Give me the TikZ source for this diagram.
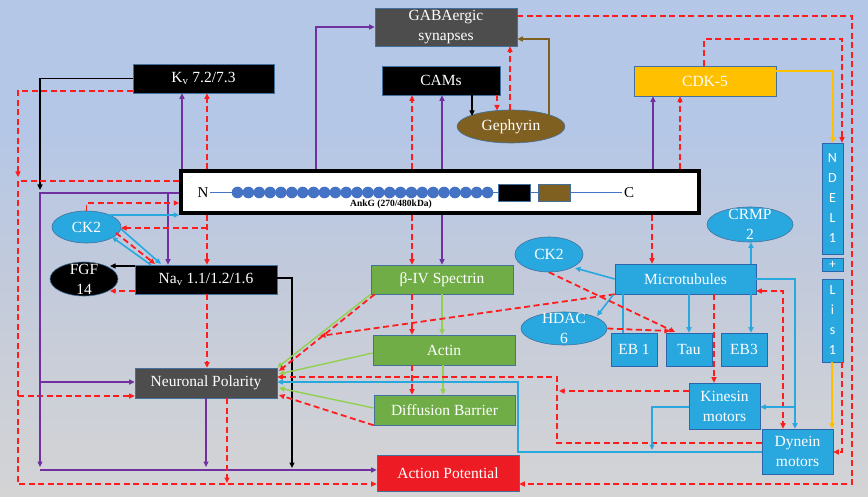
\documentclass[tikz,border=0pt]{standalone}
\usepackage{fontspec}
\setmainfont{Liberation Serif}
\newfontfamily\carl{Carlito}
\usetikzlibrary{arrows.meta,shapes.geometric,calc}
\definecolor{cRed}{RGB}{255,28,28}
\definecolor{cPur}{RGB}{112,48,160}
\definecolor{cBlu}{RGB}{41,168,224}
\definecolor{cBluD}{RGB}{46,100,170}
\definecolor{cGrn}{RGB}{146,208,80}
\definecolor{cGrnB}{RGB}{112,173,71}
\definecolor{cGold}{RGB}{255,192,0}
\definecolor{cBrown}{RGB}{128,96,32}
\definecolor{cGray}{RGB}{77,77,77}
\definecolor{cAP}{RGB}{237,28,36}
\definecolor{cEdge}{RGB}{65,113,156}
\definecolor{cDot}{RGB}{68,114,196}
\definecolor{cTop}{RGB}{181,199,230}
\definecolor{cMid}{RGB}{196,203,218}
\definecolor{cBot}{RGB}{212,212,213}
\pgfdeclareverticalshading{bgshade}{100bp}{color(0bp)=(cBot); color(25bp)=(cBot); color(45bp)=(cMid); color(62bp)=(cTop); color(100bp)=(cTop)}
\tikzset{
 rd/.style={draw=cRed, line width=1.8pt, dash pattern=on 6pt off 3.5pt},
 pu/.style={draw=cPur, line width=1.4pt},
 bl/.style={draw=cBlu, line width=1.6pt},
 gr/.style={draw=cGrn, line width=1.4pt},
 bk/.style={draw=black, line width=1.3pt},
 br/.style={draw=cBrown, line width=1.8pt},
 ye/.style={draw=cGold, line width=1.6pt},
 box/.style={draw=cEdge, line width=0.6pt, text=white, font=\fontsize{15.5}{20}\selectfont, inner sep=0pt, align=center},
 bbox/.style={box, fill=cBlu, draw=cBluD},
 oval/.style={ellipse, draw=cEdge, line width=0.6pt, inner sep=0pt},
 lbl/.style={text=white, font=\fontsize{15.5}{20}\selectfont, inner sep=0pt, align=center},
 sbox/.style={bbox, font=\carl\fontsize{14}{20}\selectfont}
}
\begin{document}
\begin{tikzpicture}[x=1pt,y=-1pt,>={Triangle[length=5.5pt,width=5pt]}]
\useasboundingbox (0,0) rectangle (868,497);
\fill[shading=bgshade] (0,0) rectangle (868,497);

% ---------- nodes ----------
\node[box,fill=cGray,minimum width=142pt,minimum height=38pt] (gaba) at (446,27) {GABAergic\\synapses};
\node[box,fill=black,minimum width=141pt,minimum height=29pt] (kv) at (203.5,78.5) {K\textsubscript{v} 7.2/7.3};
\node[box,fill=black,minimum width=118pt,minimum height=29pt] (cams) at (441,80.5) {CAMs};
\node[oval,fill=cBrown,minimum width=108pt,minimum height=33pt] (geph) at (511,126.5) {};
\node[lbl] at (geph) {Gephyrin};
\node[box,fill=cGold,minimum width=142pt,minimum height=30pt] (cdk) at (705,81) {CDK-5};

\node[draw=black,line width=3.5pt,fill=white,minimum width=518pt,minimum height=42pt,inner sep=0pt] (ank) at (440,192) {};
\draw[cDot,line width=0.8pt] (210,192.5) -- (622,192.5);
\foreach \i in {0,...,23} \fill[cDot] (237.5+\i*10.87,192.5) circle (5.8);
\node[fill=black,draw=cEdge,line width=0.5pt,minimum width=32pt,minimum height=17pt,inner sep=0pt] (blk) at (514,192.5) {};
\node[fill=cBrown,draw=cEdge,line width=0.5pt,minimum width=32pt,minimum height=17pt,inner sep=0pt] (brn) at (554,192.5) {};
\node[font=\fontsize{15}{15}\selectfont,inner sep=0pt] (nterm) at (203,193) {N};
\node[font=\fontsize{15}{15}\selectfont,inner sep=0pt] (cterm) at (629,193) {C};
\node[font=\bfseries\fontsize{9.5}{10}\selectfont,inner sep=0pt] (anklbl) at (391,204) {AnkG (270/480kDa)};

\node[oval,fill=cBlu,minimum width=69pt,minimum height=32pt] (ck2a) at (86.5,227) {};
\node[lbl] at (ck2a) {CK2};
\node[oval,fill=black,minimum width=68pt,minimum height=34pt] (fgf) at (84,279) {};
\node[lbl] at (fgf) {FGF\\14};
\node[box,fill=black,minimum width=142pt,minimum height=29pt] (nav) at (206,279.5) {Na\textsubscript{v} 1.1/1.2/1.6};
\node[box,fill=cGrnB,minimum width=142pt,minimum height=29pt] (b4) at (442,279.5) {β-IV Spectrin};
\node[box,fill=cGrnB,minimum width=142pt,minimum height=30pt] (actin) at (444,350) {Actin};
\node[box,fill=cGrnB,minimum width=141pt,minimum height=30pt] (db) at (444.5,410) {Diffusion Barrier};
\node[box,fill=cGray,minimum width=142pt,minimum height=30pt] (np) at (206,383) {Neuronal Polarity};
\node[box,fill=cAP,minimum width=142pt,minimum height=36pt] (ap) at (448,473) {Action Potential};

\node[oval,fill=cBlu,minimum width=68pt,minimum height=35pt] (ck2b) at (549,254.5) {};
\node[lbl] at (ck2b) {CK2};
\node[oval,fill=cBlu,minimum width=86pt,minimum height=35pt] (crmp) at (750,224.5) {};
\node[lbl] at (crmp) {CRMP\\2};
\node[bbox,minimum width=141pt,minimum height=30pt] (mt) at (685.5,279) {Microtubules};
\node[oval,fill=cBlu,minimum width=86pt,minimum height=33pt] (hdac) at (564,328.5) {};
\node[lbl] at (hdac) {HDAC\\6};
\node[bbox,minimum width=46pt,minimum height=33pt] (eb1) at (634,349.5) {EB 1};
\node[bbox,minimum width=46pt,minimum height=33pt] (tau) at (689,349.5) {Tau};
\node[bbox,minimum width=46pt,minimum height=33pt] (eb3) at (744,349.5) {EB3};
\node[bbox,minimum width=71pt,minimum height=46pt] (kin) at (724.5,406) {Kinesin\\motors};
\node[bbox,minimum width=71pt,minimum height=45pt] (dyn) at (797.5,451.5) {Dynein\\motors};
\node[sbox,minimum width=21pt,minimum height=111pt] (ndel) at (832.5,198.5) {N\\D\\E\\L\\1};
\node[sbox,minimum width=21pt,minimum height=13pt,font=\carl\fontsize{13}{13}\selectfont] (plus) at (832.5,264.5) {+};
\node[sbox,minimum width=21pt,minimum height=83pt] (lis) at (832.5,320.5) {L\\i\\s\\1};

% ---------- connectors: top ----------
\draw[pu,->] (ank.north -| 182,0) -- (kv.south -| 182,0);
\draw[rd,->] (ank.north -| 207,0) -- (kv.south -| 207,0);
\draw[pu,->] (ank.north -| 316,0) |- (gaba.west);
\draw[rd,->] (ank.north -| 412,0) -- (cams.south -| 412,0);
\draw[pu,->] (ank.north -| 442,0) -- (cams.south -| 442,0);
\draw[bk,->] (cams.south -| 472,0) -- (472,116);
\draw[rd,->] (cams.south -| 497,0) -- (497,110.5);
\draw[rd,->] (geph.north -| 510,0) -- (gaba.south -| 510,0);
\draw[br,->] (549,115) |- (gaba.east |- 0,39);
\draw[rd,->] (gaba.east |- 0,16) -| (852,484) -- (ap.east |- 0,484);
\draw[pu,->] (ank.north -| 653,0) -- (cdk.south -| 653,0);
\draw[rd,->] (ank.north -| 680,0) -- (cdk.south -| 680,0);
\draw[rd,->] (cdk.north -| 704,0) |- (842,39) -- (ndel.north -| 842,0);
\draw[ye,->] (cdk.east |- 0,71) -| (ndel.north -| 833,0);

% ---------- connectors: left ----------
\draw[bk,->] (kv.west) -| (40,190);
\draw[rd,->] (kv.west |- 0,91) -| (18,177);
\draw[rd,->] (ank.west |- 0,181) -| (18,484) -- (ap.west |- 0,484);
\draw[rd,->] (18,396) -- (np.west |- 0,396);
\draw[pu,->] (ank.west |- 0,193) -| (40,467);
\draw[pu,->] (40,470) -- (ap.west |- 0,470);
\draw[pu,->] (40,382) -- (np.west |- 0,382);
\draw[pu,->] (168,193) -- (nav.north -| 168,0);
\draw[rd,->] (ank.south -| 207,0) -- (nav.north -| 207,0);
\draw[rd,->] (207,228) -- (121,228);
\draw[rd,->] (ck2a.north) |- (ank.west |- 0,203);
\draw[bl,->] (110,215) -- (ank.west |- 0,215);
\draw[bl,->] (151,265) -- (112,237);
\draw[rd,->] (116,233) -- (155,264);
\draw[bl,->] (121,229) -- (161,264);
\draw[bk,->] (nav.west |- 0,266) -- (110,266);
\draw[rd,->] (nav.west |- 0,291) -- (110,291);
\draw[bk,->] (nav.east |- 0,278) -| (292,468);
\draw[rd,->] (nav.south -| 207,0) -- (np.north -| 207,0);
\draw[pu,->] (np.south) -- (206,467);
\draw[rd,->] (np.south -| 227,0) -- (227,483);

% ---------- connectors: centre ----------
\draw[rd,->] (ank.south -| 412,0) -- (b4.north -| 412,0);
\draw[pu,->] (ank.south -| 442,0) -- (b4.north -| 442,0);
\draw[rd,->] (b4.south -| 412,0) -- (actin.north -| 412,0);
\draw[gr,->] (b4.south -| 442,0) -- (actin.north -| 442,0);
\draw[rd,->] (actin.south -| 412,0) -- (db.north -| 412,0);
\draw[gr,->] (actin.south -| 443,0) -- (db.north -| 443,0);
\draw[gr,->] (b4.south west) -- (np.north east);
\draw[rd,->] ($(b4.south west)+(4,0)$) -- (279,371);
\draw[rd,->] (mt.south west) -- (320,336);
\draw[gr,->] (actin.west |- 0,353) -- (279,374);
\draw[rd,->] (dyn.west |- 0,443) -| (557,377) -- (np.east |- 0,377);
\draw[rd,->] (kin.west |- 0,391) -- (559,391);
\draw[bl,->] (dyn.west |- 0,452) -| (518,382) -- (np.east |- 0,382);
\draw[bl,->] (kin.west |- 0,407) -| (652,450);
\draw[gr,->] (db.west |- 0,408) -- (279,388);
\draw[rd,->] (db.south west) -- (279,395);

% ---------- connectors: microtubules ----------
\draw[rd,->] (ank.south -| 652,0) -- (mt.north -| 652,0);
\draw[bl,->] (mt.north -| 751,0) -- (crmp.south -| 751,0);
\draw[bl,->] (mt.west |- 0,279) -- (575,268);
\draw[bl,->] (613,295) -- (597,316);
\draw[bl] (mt.south -| 623,0) -- (eb1.north -| 623,0);
\draw[bl,->] (mt.south -| 689,0) -- (tau.north);
\draw[bl,->] (mt.south -| 751,0) -- (eb3.north -| 751,0);
\draw[rd,->] (mt.south -| 714,0) -- (kin.north -| 714,0);
\draw[rd,<->] (mt.east |- 0,291) -| (dyn.north -| 783,0);
\draw[bl,->] (mt.east |- 0,279) -| (dyn.north -| 795,0);
\draw[bl,->] (795,407) -- (kin.east |- 0,407);
\draw[rd,->] (ck2b.south) -- (675,332);
\draw[rd,->] (hdac.east) -- (670,331);
\draw[ye,->] (lis.south -| 832,0) -- (dyn.north -| 832,0);
\draw[rd,->] (lis.south -| 842,0) |- (dyn.east |- 0,452);
\end{tikzpicture}
\end{document}
